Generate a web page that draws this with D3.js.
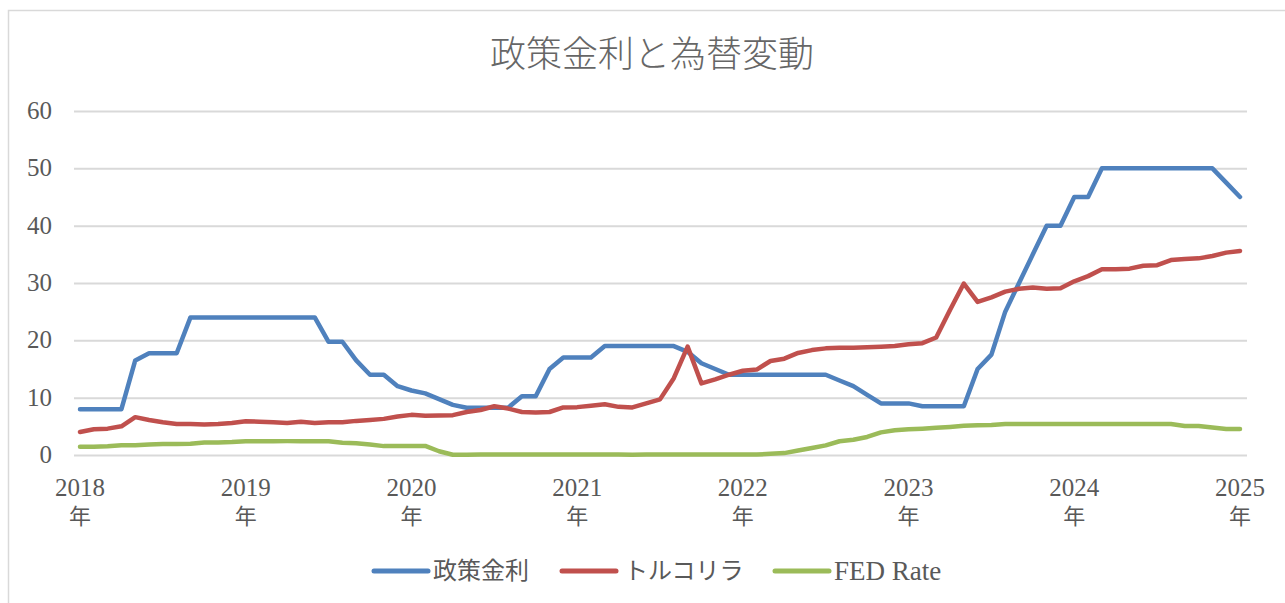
<!DOCTYPE html>
<html>
<head>
<meta charset="utf-8">
<script src="https://cdn.jsdelivr.net/npm/d3@7"></script>
<style>
  body { margin: 0; background: #fff; }
  text { font-family: "Liberation Serif", "Noto Sans CJK JP", serif; fill: #595959; }
</style>
</head>
<body>
<div class="chart"></div>
<script>
// monthly points, Jan 2018 .. Jan 2025
var yearLabels = ["2018", "2019", "2020", "2021", "2022", "2023", "2024", "2025"];
var seriesNames = ["政策金利", "トルコリラ", "FED Rate"];
var seriesColors = ["#4F81BD", "#C0504D", "#9BBB59"];
var yTicks = [0, 10, 20, 30, 40, 50, 60];

var policyRate = [
  8, 8, 8, 8, 16.5, 17.75, 17.75, 17.75, 24, 24, 24, 24,
  24, 24, 24, 24, 24, 24, 19.75, 19.75, 16.5, 14, 14, 12,
  11.25, 10.75, 9.75, 8.75, 8.25, 8.25, 8.25, 8.25, 10.25, 10.25, 15, 17,
  17, 17, 19, 19, 19, 19, 19, 19, 18, 16, 15, 14,
  14, 14, 14, 14, 14, 14, 14, 13, 12, 10.5, 9, 9,
  9, 8.5, 8.5, 8.5, 8.5, 15, 17.5, 25, 30, 35, 40, 40,
  45, 45, 50, 50, 50, 50, 50, 50, 50, 50, 50, 47.5,
  45
];
var tryRate = [
  4.0, 4.5, 4.6, 5.0, 6.6, 6.1, 5.7, 5.4, 5.4, 5.3, 5.4, 5.6,
  5.9, 5.8, 5.7, 5.6, 5.8, 5.6, 5.7, 5.7, 5.95, 6.1, 6.3, 6.7,
  7.0, 6.85, 6.9, 6.95, 7.5, 7.85, 8.5, 8.1, 7.5, 7.4, 7.5, 8.3,
  8.35, 8.6, 8.85, 8.4, 8.3, 9.0, 9.7, 13.4, 18.9, 12.5, 13.2, 14.0,
  14.7, 14.9, 16.4, 16.8, 17.8, 18.3, 18.6, 18.7, 18.7, 18.8, 18.9, 19.0,
  19.3, 19.5, 20.5, 25.3, 29.9, 26.7, 27.5, 28.5, 29.0, 29.2, 29.0, 29.1,
  30.3, 31.2, 32.4, 32.4, 32.5, 33.0, 33.1, 34.0, 34.2, 34.3, 34.7, 35.3,
  35.6
];
var fedRate = [
  1.42, 1.42, 1.51, 1.69, 1.70, 1.82, 1.91, 1.91, 1.95, 2.19, 2.20, 2.27,
  2.40, 2.40, 2.41, 2.42, 2.39, 2.38, 2.40, 2.13, 2.04, 1.83, 1.55, 1.55,
  1.55, 1.58, 0.65, 0.05, 0.05, 0.08, 0.09, 0.10, 0.09, 0.09, 0.09, 0.09,
  0.09, 0.08, 0.07, 0.07, 0.06, 0.08, 0.10, 0.09, 0.08, 0.08, 0.08, 0.08,
  0.08, 0.08, 0.20, 0.33, 0.77, 1.21, 1.68, 2.4, 2.65, 3.15, 3.95, 4.3,
  4.5, 4.6, 4.75, 4.9, 5.1, 5.2, 5.25, 5.4, 5.4, 5.4, 5.4, 5.4,
  5.4, 5.4, 5.4, 5.4, 5.4, 5.4, 5.4, 5.4, 5.05, 5.05, 4.8, 4.55,
  4.55
];

var width = 1285, height = 603;
var svg = d3.select(".chart").append("svg")
  .attr("width", width)
  .attr("height", height);

// chart frame
svg.append("rect")
  .attr("x", 8.5).attr("y", 10.5)
  .attr("width", 1300).attr("height", 620)
  .attr("fill", "none")
  .attr("stroke", "#D9D9D9")
  .attr("stroke-width", 1.5);

svg.append("text")
  .attr("x", 652).attr("y", 67)
  .attr("text-anchor", "middle")
  .attr("font-size", 36)
  .attr("font-weight", 300)
  .style("fill", "#666")
  .text("政策金利と為替変動");

var xScale = d3.scaleLinear().domain([0, policyRate.length - 1]).range([80, 1240]);
var yScale = d3.scaleLinear().domain([0, 60]).range([455, 111]);

// gridlines
var yGrid = d3.axisLeft(yScale).tickValues(yTicks).tickSize(-(1247 - 74)).tickFormat("");
svg.append("g")
  .attr("class", "grid")
  .attr("transform", "translate(74,0)")
  .call(yGrid)
  .call(g => g.select(".domain").remove())
  .call(g => g.selectAll("line").attr("stroke", "#D9D9D9").attr("stroke-width", 2));

// y labels
svg.append("g").selectAll("text")
  .data(yTicks)
  .enter().append("text")
  .attr("x", 52)
  .attr("y", d => yScale(d) + 8)
  .attr("text-anchor", "end")
  .attr("font-size", 25)
  .text(d => d);

// x labels, one per year (every 12 months)
var xLab = svg.append("g").selectAll("text")
  .data(yearLabels)
  .enter().append("text")
  .attr("text-anchor", "middle")
  .attr("font-size", 25);
xLab.append("tspan")
  .attr("x", (d, i) => xScale(i * 12))
  .attr("y", 496)
  .text(d => d);
xLab.append("tspan")
  .attr("x", (d, i) => xScale(i * 12))
  .attr("y", 524)
  .attr("font-size", 22)
  .text("年");

var line = d3.line()
  .x((d, i) => xScale(i))
  .y(d => yScale(d));

var series = [policyRate, tryRate, fedRate];
svg.append("g").selectAll("path")
  .data(series)
  .enter().append("path")
  .attr("d", line)
  .attr("fill", "none")
  .attr("stroke", (d, i) => seriesColors[i])
  .attr("stroke-width", 4.5)
  .attr("stroke-linejoin", "round")
  .attr("stroke-linecap", "round");

// legend
var legendX = [374, 562, 775];
var lg = svg.append("g").selectAll("g")
  .data(seriesNames)
  .enter().append("g")
  .attr("transform", (d, i) => `translate(${legendX[i]},571)`);
lg.append("line")
  .attr("x1", 0).attr("x2", 54)
  .attr("stroke", (d, i) => seriesColors[i])
  .attr("stroke-width", 5)
  .attr("stroke-linecap", "round");
lg.append("text")
  .attr("x", (d, i) => i === 1 ? 62 : 59)
  .attr("y", (d, i) => i === 2 ? 9 : 8)
  .attr("font-size", (d, i) => i === 2 ? 27 : 24)
  .text(d => d);
</script>
</body>
</html>
